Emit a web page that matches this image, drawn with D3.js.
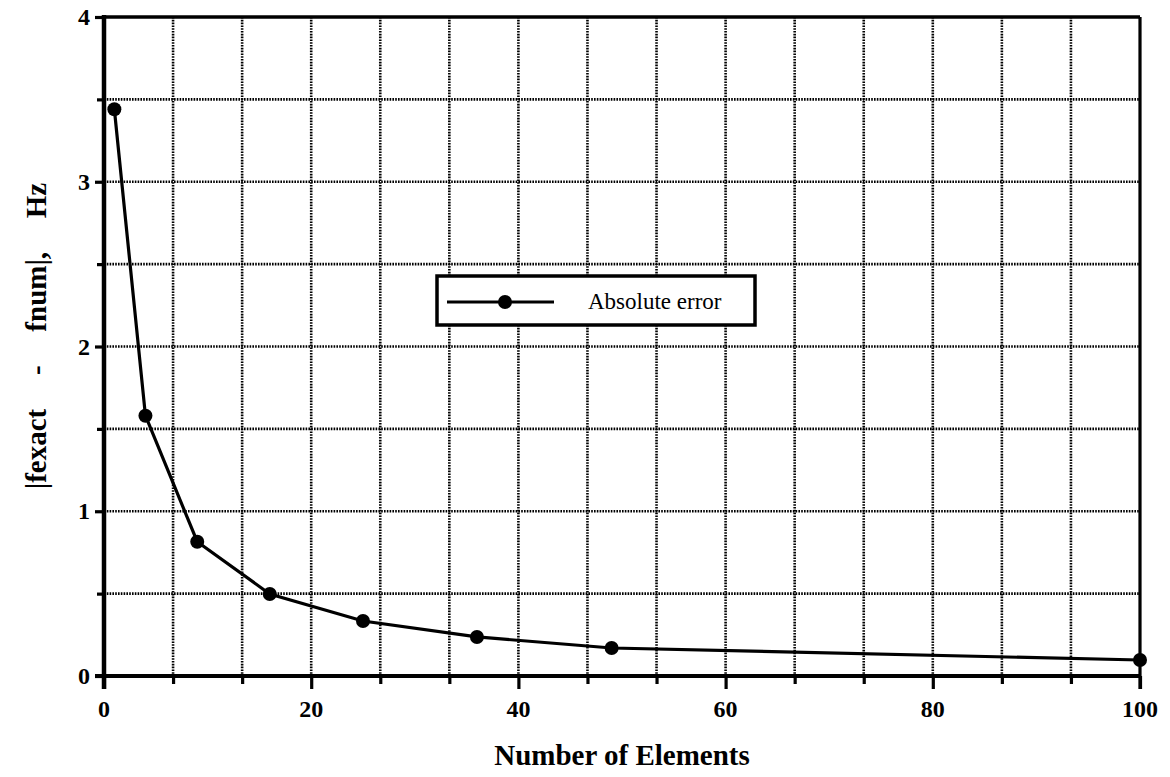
<!DOCTYPE html>
<html>
<head>
<meta charset="utf-8">
<script src="https://cdn.jsdelivr.net/npm/d3@7"></script>
<style>
  html, body { margin: 0; padding: 0; background: #fff; }
  svg { display: block; }
  text { font-family: "Liberation Serif", "Times New Roman", serif; fill: #000; }
</style>
</head>
<body>
<svg id="chart" width="1170" height="777"></svg>
<script>
// Number of elements and the absolute frequency error at each mesh
const elements = [1, 4, 9, 16, 25, 36, 49, 100];
const absError = [3.44, 1.58, 0.815, 0.498, 0.334, 0.237, 0.17, 0.097];
const xTickLabels = [0, 20, 40, 60, 80, 100];
const yTickLabels = [0, 1, 2, 3, 4];
const seriesName = "Absolute error";
const xTitle = "Number of Elements";
const yTitle = "|fexact   -   fnum|,   Hz";

const svg = d3.select("#chart");
const margin = { left: 104, right: 30, top: 17, bottom: 101 };
const W = 1170, H = 777;

const x = d3.scaleLinear().domain([0, 100]).range([margin.left, W - margin.right]);
const y = d3.scaleLinear().domain([0, 4]).range([H - margin.bottom, margin.top]);

const xGrid = d3.range(0, 15 + 1).map(i => i * 100 / 15);
const yGrid = d3.range(0, 8 + 1).map(i => i * 0.5);
const isMajorX = d => xTickLabels.some(v => Math.abs(v - d) < 1e-6);
const isMajorY = d => yTickLabels.some(v => Math.abs(v - d) < 1e-6);

// grid
const grid = svg.append("g");
grid.selectAll("line.v").data(xGrid.slice(1, -1)).join("line")
  .attr("x1", d => x(d)).attr("x2", d => x(d))
  .attr("y1", y(4)).attr("y2", y(0))
  .attr("stroke", "#000").attr("stroke-width", 2.6).attr("stroke-dasharray", "1.6,1.2");
grid.selectAll("line.h").data(yGrid.slice(1, -1)).join("line")
  .attr("y1", d => y(d)).attr("y2", d => y(d))
  .attr("x1", x(0)).attr("x2", x(100))
  .attr("stroke", "#000").attr("stroke-width", 2.6).attr("stroke-dasharray", "1.6,1.2");

// axes
const xAxis = d3.axisBottom(x).tickValues(xGrid).tickSize(8).tickFormat(() => "");
const yAxis = d3.axisLeft(y).tickValues(yGrid).tickSize(8).tickFormat(() => "");
const gx = svg.append("g").attr("transform", `translate(0,${y(0)})`).call(xAxis);
const gy = svg.append("g").attr("transform", `translate(${x(0)},0)`).call(yAxis);
[gx, gy].forEach(g => {
  g.select(".domain").remove();
  g.selectAll(".tick line").attr("stroke", "#000").attr("stroke-width", 3.2);
});
gx.selectAll(".tick line").attr("y2", d => isMajorX(d) ? 13 : 8);
gy.selectAll(".tick line").attr("x2", d => isMajorY(d) ? -9 : -7);

// tick labels
svg.append("g").selectAll("text").data(xTickLabels).join("text")
  .attr("x", d => x(d)).attr("y", y(0) + 41)
  .attr("text-anchor", "middle").attr("font-size", 24).attr("font-weight", "bold")
  .text(d => d);
svg.append("g").selectAll("text").data(yTickLabels).join("text")
  .attr("x", x(0) - 14).attr("y", d => y(d) + 8)
  .attr("text-anchor", "end").attr("font-size", 24).attr("font-weight", "bold")
  .text(d => d);

// frame
svg.append("line").attr("x1", x(0)).attr("x2", x(100)).attr("y1", y(4)).attr("y2", y(4))
  .attr("stroke", "#000").attr("stroke-width", 3.5);
svg.append("line").attr("x1", x(100)).attr("x2", x(100)).attr("y1", y(4)).attr("y2", y(0) + 13)
  .attr("stroke", "#000").attr("stroke-width", 3.2);
svg.append("line").attr("x1", x(0) - 9).attr("x2", x(100)).attr("y1", y(0)).attr("y2", y(0))
  .attr("stroke", "#000").attr("stroke-width", 4);
svg.append("line").attr("x1", x(0)).attr("x2", x(0)).attr("y1", y(4) - 2).attr("y2", y(0) + 13)
  .attr("stroke", "#000").attr("stroke-width", 4.5);

// series
const pts = elements.map((e, i) => [e, absError[i]]);
svg.append("path").datum(pts)
  .attr("fill", "none").attr("stroke", "#000").attr("stroke-width", 3.2)
  .attr("d", d3.line().x(d => x(d[0])).y(d => y(d[1])));
svg.append("g").selectAll("circle").data(pts).join("circle")
  .attr("cx", d => x(d[0])).attr("cy", d => y(d[1])).attr("r", 7).attr("fill", "#000");

// legend
const lg = svg.append("g").attr("transform", "translate(437,276)");
lg.append("rect").attr("x", 0).attr("y", 0).attr("width", 318).attr("height", 49)
  .attr("fill", "#fff").attr("stroke", "#000").attr("stroke-width", 3.5);
lg.append("line").attr("x1", 10).attr("x2", 117).attr("y1", 26).attr("y2", 26)
  .attr("stroke", "#000").attr("stroke-width", 3);
lg.append("circle").attr("cx", 68).attr("cy", 26).attr("r", 7).attr("fill", "#000");
lg.append("text").attr("x", 151).attr("y", 33).attr("font-size", 23).text(seriesName);

// axis titles
svg.append("text").attr("x", (x(0) + x(100)) / 2).attr("y", 765)
  .attr("text-anchor", "middle").attr("font-size", 29).attr("font-weight", "bold")
  .text(xTitle);
svg.append("text").attr("transform", "translate(46,336) rotate(-90)")
  .attr("text-anchor", "middle").attr("font-size", 29).attr("font-weight", "bold")
  .style("white-space", "pre").style("word-spacing", "4px")
  .text(yTitle);
</script>
</body>
</html>
